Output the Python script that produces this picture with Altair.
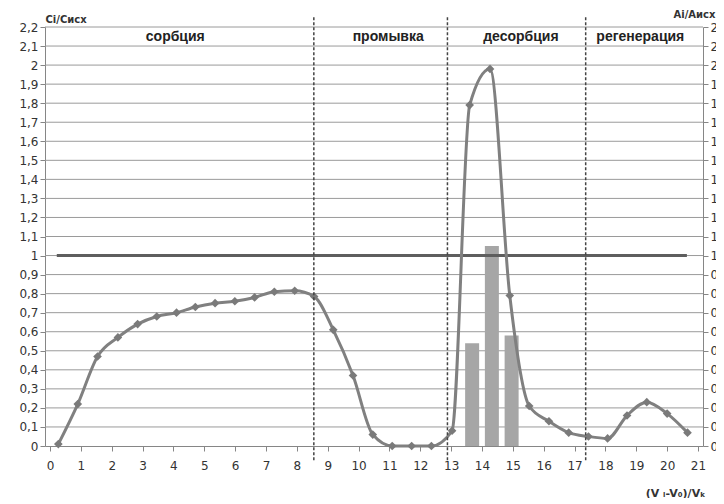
import altair as alt
import pandas as pd

# Ci/Cисх series
x_vals = [0.27, 0.90, 1.54, 2.20, 2.84, 3.46, 4.10, 4.71, 5.35, 5.99, 6.63,
          7.27, 7.93, 8.56, 9.18, 9.82, 10.46, 11.09, 11.72, 12.36, 13.03,
          13.60, 14.26, 14.90, 15.53, 16.17, 16.81, 17.45, 18.07, 18.70,
          19.34, 20.00, 20.66]
c_vals = [0.01, 0.22, 0.47, 0.57, 0.64, 0.68, 0.70, 0.73, 0.75, 0.76, 0.78,
          0.81, 0.815, 0.785, 0.61, 0.37, 0.06, 0.0, 0.0, 0.0, 0.08,
          1.79, 1.98, 0.79, 0.21, 0.13, 0.07, 0.05, 0.04, 0.16,
          0.23, 0.17, 0.07]

# Ai/Aисх bars
bar_x = [13.68, 14.32, 14.96]
bar_a = [0.54, 1.05, 0.58]

# reference level line (=1)
ref_x = [0.22, 20.64]
ref_y = [1.0, 1.0]

# stage boundaries (dashed)
div_x = [8.55, 12.88, 17.36]
div_lo = [-0.075, -0.075, -0.075]
div_hi = [2.255, 2.255, 2.255]

# stage names
sec_names = ["сорбция", "промывка", "десорбция", "регенерация"]
sec_x = [4.06, 10.96, 15.26, 19.13]
sec_y = [2.15, 2.15, 2.15, 2.15]

y_ticks = [0, 0.1, 0.2, 0.3, 0.4, 0.5, 0.6, 0.7, 0.8, 0.9, 1.0, 1.1,
           1.2, 1.3, 1.4, 1.5, 1.6, 1.7, 1.8, 1.9, 2.0, 2.1, 2.2]
x_ticks = [0, 1, 2, 3, 4, 5, 6, 7, 8, 9, 10, 11, 12, 13, 14, 15, 16, 17,
           18, 19, 20, 21]

df_c = pd.DataFrame({"x": x_vals, "c": c_vals})
df_b = pd.DataFrame({"x": bar_x, "a": bar_a})
df_r = pd.DataFrame({"x": ref_x, "y": ref_y})
df_d = pd.DataFrame({"x": div_x, "lo": div_lo, "hi": div_hi})
df_s = pd.DataFrame({"x": sec_x, "y": sec_y, "name": sec_names})
df_g = pd.DataFrame({"g": y_ticks[1:]})

AX = "#868686"
LBL = "#333333"
FONT = "DejaVu Sans"
lbl_expr = "replace(format(datum.value, '.1~f'), '.', ',')"

xs = alt.Scale(domain=[0, 21], nice=False, zero=False)
ys = alt.Scale(domain=[0, 2.2], nice=False, zero=False)

x_axis = alt.Axis(values=x_ticks, grid=False, tickSize=5, labelPadding=9,
                  domainColor=AX, tickColor=AX, labelColor=LBL, labelFont=FONT,
                  labelFontSize=12, title="(V ᵢ-V₀)/Vₖ", titleAlign="right",
                  titleAnchor="start", titleX=660, titleY=50,
                  titleBaseline="alphabetic", titleFont=FONT, titleFontSize=11,
                  titleFontWeight="bold", titleColor=LBL)

left_axis = alt.Axis(values=y_ticks, labelExpr=lbl_expr, orient="left",
                     grid=False, tickSize=5, labelPadding=2, domainColor=AX,
                     tickColor=AX, labelColor=LBL, labelFont=FONT,
                     labelFontSize=12,
                     title="Ci/Cисх", titleAngle=0, titleAlign="left",
                     titleAnchor="start", titleX=0, titleY=-5,
                     titleBaseline="alphabetic", titleFont=FONT,
                     titleFontSize=10, titleFontWeight="bold", titleColor=LBL)

right_axis = alt.Axis(values=y_ticks, labelExpr=lbl_expr, orient="right",
                      grid=False, tickSize=5, labelPadding=2, labelAlign="left",
                      domainColor=AX, tickColor=AX, labelColor=LBL,
                      labelFont=FONT, labelFontSize=12,
                      title="Ai/Aисх", titleAngle=0, titleAlign="right",
                      titleAnchor="start", titleX=12, titleY=-10,
                      titleBaseline="alphabetic", titleFont=FONT,
                      titleFontSize=10, titleFontWeight="bold", titleColor=LBL)

grid = alt.Chart(df_g).mark_rule(color="#9a9a9a", strokeWidth=1).encode(
    y=alt.Y("g:Q", scale=ys, axis=left_axis),
)

bars = alt.Chart(df_b).mark_bar(size=14, color="#a6a6a6").encode(
    x=alt.X("x:Q", scale=xs, axis=x_axis),
    y=alt.Y("a:Q", scale=ys, axis=right_axis),
)

ref = alt.Chart(df_r).mark_line(color="#5e5e5e", strokeWidth=3).encode(
    x=alt.X("x:Q", scale=xs, axis=x_axis),
    y=alt.Y("y:Q", scale=ys, axis=None),
)

line = alt.Chart(df_c).mark_line(color="#808080", strokeWidth=3,
                                 interpolate="monotone").encode(
    x=alt.X("x:Q", scale=xs, axis=x_axis),
    y=alt.Y("c:Q", scale=ys, axis=None),
)

pts = alt.Chart(df_c).mark_point(shape="diamond", filled=True, size=75,
                                 color="#7a7a7a", opacity=1).encode(
    x=alt.X("x:Q", scale=xs, axis=x_axis),
    y=alt.Y("c:Q", scale=ys, axis=None),
)

divs = alt.Chart(df_d).mark_rule(color="#444444", strokeWidth=1.5,
                                 strokeDash=[3, 2], clip=False).encode(
    x=alt.X("x:Q", scale=xs, axis=x_axis),
    y=alt.Y("lo:Q", scale=ys, axis=None),
    y2="hi:Q",
)

secs = alt.Chart(df_s).mark_text(font="Liberation Sans", fontWeight="bold",
                                 fontSize=14, color="#222222",
                                 baseline="middle").encode(
    x=alt.X("x:Q", scale=xs, axis=x_axis),
    y=alt.Y("y:Q", scale=ys, axis=None),
    text="name:N",
)

chart = alt.layer(grid, bars, ref, line, pts, divs, secs).resolve_scale(
    y="independent"
).properties(
    width=658, height=419,
    autosize=alt.AutoSizeParams(type="none"),
    padding={"left": 37, "top": 19, "right": 13, "bottom": 52},
    background="white",
).configure_view(stroke=None)

chart.save("out.html", embed_options={"renderer": "svg", "actions": False})
